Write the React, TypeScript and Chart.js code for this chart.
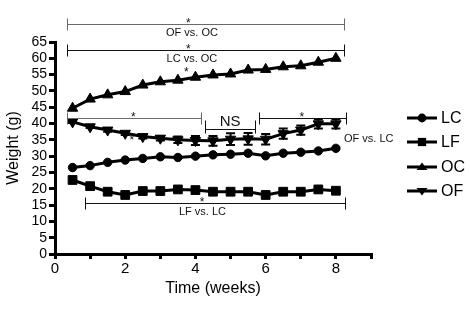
import React, { useEffect, useRef } from 'react';
import { Chart, registerables } from 'chart.js';

Chart.register(...registerables);

// ---- data ----
const weeks = [0.5, 1, 1.5, 2, 2.5, 3, 3.5, 4, 4.5, 5, 5.5, 6, 6.5, 7, 7.5, 8];
const lcWeight = [26.5, 27.1, 28.1, 28.8, 29.3, 29.8, 29.6, 30.0, 30.4, 30.6, 30.9, 30.1, 30.9, 31.2, 31.6, 32.4];
const lfWeight = [22.7, 20.8, 19.1, 18.1, 19.3, 19.3, 19.8, 19.6, 19.1, 19.1, 19.1, 18.1, 19.1, 19.1, 19.8, 19.4];
const ocWeight = [44.7, 47.5, 48.8, 49.8, 51.8, 52.8, 53.3, 54.2, 54.9, 55.2, 56.4, 56.6, 57.4, 57.7, 58.8, 60.0];
const ofWeight = [40.5, 39.0, 38.0, 37.0, 36.0, 35.5, 35.0, 34.8, 34.7, 35.2, 35.3, 35.2, 36.9, 38.0, 39.9, 39.9];
const ofError = [0.3, 0.4, 0.5, 0.5, 0.6, 0.7, 1.0, 1.4, 1.5, 1.8, 1.8, 1.6, 1.6, 1.4, 1.4, 1.4];
const seriesNames = ['LC', 'LF', 'OC', 'OF'];

// significance brackets (data units)
const bracketFrom = [0.34, 0.34, 0.34, 4.27, 5.81, 0.86];
const bracketTo = [8.23, 8.23, 4.15, 5.71, 8.29, 8.26];
const bracketAt = [70.6, 62.5, 41.8, 38.3, 41.8, 15.5];
const bracketStarX = [3.8, 3.8, 2.23, null, 7.03, 4.19];
const bracketLabel = ['OF vs. OC', 'LC vs. OC', '', 'NS', '', 'LF vs. LC'];
const bracketLabelX = [3.9, 3.9, 0, 4.99, 0, 4.2];
const bracketGray = [true, false, true, false, false, false];

// free notes (data units)
const noteText = ['*', '*', 'OF vs. LC'];
const noteX = [3.74, 2.19, 8.23];
const noteY = [55.6, 34.8, 35.2];

const FONT = '"Liberation Sans", Arial, Helvetica, sans-serif';

type Shape = 'circle' | 'rect' | 'triangle' | 'triangleDown';
const shapes: Shape[] = ['circle', 'rect', 'triangle', 'triangleDown'];

function drawShape(ctx: CanvasRenderingContext2D, shape: Shape, x: number, y: number, r: number) {
  ctx.beginPath();
  if (shape === 'circle') {
    ctx.arc(x, y, r * 0.8, 0, Math.PI * 2);
  } else if (shape === 'rect') {
    const s = r * 0.75;
    ctx.rect(x - s, y - s, 2 * s, 2 * s);
  } else {
    const dir = shape === 'triangle' ? 1 : -1;
    const h = r * 1.4;
    ctx.moveTo(x, y - dir * h * 0.6);
    ctx.lineTo(x + r, y + dir * h * 0.4);
    ctx.lineTo(x - r, y + dir * h * 0.4);
    ctx.closePath();
  }
  ctx.fill();
}

const annotationPlugin = {
  id: 'annotations',
  afterDatasetsDraw(chart: any) {
    const ctx: CanvasRenderingContext2D = chart.ctx;
    const xs = chart.scales.x;
    const ys = chart.scales.y;
    ctx.save();

    // error bars for OF
    const meta = chart.getDatasetMeta(3);
    ctx.strokeStyle = '#000';
    ctx.lineWidth = 2;
    meta.data.forEach((pt: any, i: number) => {
      const yt = ys.getPixelForValue(ofWeight[i] + ofError[i]);
      const yb = ys.getPixelForValue(ofWeight[i] - ofError[i]);
      ctx.beginPath();
      ctx.moveTo(pt.x, yt);
      ctx.lineTo(pt.x, yb);
      ctx.moveTo(pt.x - 4.5, yt);
      ctx.lineTo(pt.x + 4.5, yt);
      ctx.moveTo(pt.x - 4.5, yb);
      ctx.lineTo(pt.x + 4.5, yb);
      ctx.stroke();
    });

    // brackets
    ctx.lineWidth = 1;
    bracketFrom.forEach((from, i) => {
      const x1 = Math.round(xs.getPixelForValue(from)) + 0.5;
      const x2 = Math.round(xs.getPixelForValue(bracketTo[i])) + 0.5;
      const y = Math.round(ys.getPixelForValue(bracketAt[i])) + 0.5;
      const col = bracketGray[i] ? '#6a6a6a' : '#111';
      ctx.strokeStyle = col;
      ctx.beginPath();
      ctx.moveTo(x1, y);
      ctx.lineTo(x2, y);
      const isNS = bracketLabel[i] === 'NS';
      const up = isNS ? 9 : 6;
      const down = isNS ? 4 : 6;
      ctx.moveTo(x1, y - up);
      ctx.lineTo(x1, y + down);
      ctx.moveTo(x2, y - up);
      ctx.lineTo(x2, y + down);
      ctx.stroke();

      ctx.fillStyle = '#111';
      ctx.textAlign = 'center';
      ctx.textBaseline = 'middle';
      const sx = bracketStarX[i];
      if (sx !== null) {
        ctx.font = `12px ${FONT}`;
        ctx.fillText('*', xs.getPixelForValue(sx), y - 1);
      }
      const lab = bracketLabel[i];
      if (lab) {
        const lx = xs.getPixelForValue(bracketLabelX[i]);
        if (isNS) {
          ctx.font = `15px ${FONT}`;
          ctx.fillText(lab, lx, y - 8);
        } else {
          ctx.font = `11px ${FONT}`;
          ctx.fillText(lab, lx, y + 8);
        }
      }
    });

    // notes
    noteText.forEach((t, i) => {
      const px = xs.getPixelForValue(noteX[i]);
      const py = ys.getPixelForValue(noteY[i]);
      ctx.fillStyle = '#111';
      ctx.textBaseline = 'middle';
      if (t === '*') {
        ctx.font = `12px ${FONT}`;
        ctx.textAlign = 'center';
      } else {
        ctx.font = `11px ${FONT}`;
        ctx.textAlign = 'left';
      }
      ctx.fillText(t, px, py);
    });

    // legend
    const legendY = [118, 142, 167, 191];
    seriesNames.forEach((name, i) => {
      const y = legendY[i];
      ctx.strokeStyle = '#000';
      ctx.fillStyle = '#000';
      ctx.lineWidth = 3;
      ctx.beginPath();
      ctx.moveTo(407, y);
      ctx.lineTo(437, y);
      ctx.stroke();
      drawShape(ctx, shapes[i], 422, y, 5.5);
      ctx.font = `16px ${FONT}`;
      ctx.textAlign = 'left';
      ctx.textBaseline = 'middle';
      ctx.fillText(name, 441, y + 1);
    });

    ctx.restore();
  },
};

function toPoints(vals: number[]) {
  return weeks.map((w, i) => ({ x: w, y: vals[i] }));
}

export default function App() {
  const ref = useRef<HTMLCanvasElement>(null);

  useEffect(() => {
    if (!ref.current) return;
    Chart.defaults.color = '#000';
    const base = {
      borderColor: '#000',
      backgroundColor: '#000',
      pointBackgroundColor: '#000',
      pointBorderColor: '#000',
      borderWidth: 3,
      pointBorderWidth: 1,
      tension: 0,
      fill: false,
    };
    const chart = new Chart(ref.current, {
      type: 'line',
      data: {
        datasets: [
          { ...base, label: seriesNames[0], data: toPoints(lcWeight), pointStyle: 'circle', pointRadius: 4.2 },
          { ...base, label: seriesNames[1], data: toPoints(lfWeight), pointStyle: 'rect', pointRadius: 6.2 },
          { ...base, label: seriesNames[2], data: toPoints(ocWeight), pointStyle: 'triangle', pointRadius: 6 },
          { ...base, label: seriesNames[3], data: toPoints(ofWeight), pointStyle: 'triangle', pointRotation: 180, pointRadius: 6 },
        ],
      },
      options: {
        animation: false,
        responsive: false,
        devicePixelRatio: 1,
        layout: { padding: { top: 42, right: 99, bottom: 0, left: 0 } },
        plugins: { legend: { display: false }, tooltip: { enabled: false } },
        scales: {
          x: {
            type: 'linear',
            min: 0,
            max: 9,
            afterFit: (s: any) => { s.height = 55; },
            border: { display: true, width: 3, color: '#000' },
            grid: { drawOnChartArea: false, drawTicks: true, tickLength: 5, tickWidth: 3, tickColor: '#000', lineWidth: 3, color: '#000' },
            ticks: {
              stepSize: 1,
              autoSkip: false,
              maxRotation: 0,
              padding: 1,
              color: '#000',
              font: { family: FONT, size: 15 },
              callback: (v: any) => (Number(v) % 2 === 0 ? String(v) : ''),
            },
            title: { display: true, text: 'Time (weeks)', color: '#000', font: { family: FONT, size: 16 }, padding: { top: 0, bottom: 11 } },
          },
          y: {
            type: 'linear',
            min: 0,
            max: 65,
            afterFit: (s: any) => { s.width = 55; },
            border: { display: true, width: 3, color: '#000' },
            grid: { drawOnChartArea: false, drawTicks: true, tickLength: 6, tickWidth: 3, tickColor: '#000', lineWidth: 3, color: '#000' },
            ticks: {
              stepSize: 5,
              autoSkip: false,
              padding: 2,
              color: '#000',
              font: { family: FONT, size: 14 },
            },
            title: { display: true, text: 'Weight (g)', color: '#000', font: { family: FONT, size: 16 }, padding: { top: 4, bottom: 0 } },
          },
        },
      } as any,
      plugins: [annotationPlugin],
    });
    return () => chart.destroy();
  }, []);

  return (
    <div style={{ position: 'absolute', left: 0, top: 0, width: 470, height: 309, background: '#fff' }}>
      <canvas ref={ref} width={470} height={309} style={{ width: 470, height: 309, display: 'block' }} />
    </div>
  );
}
